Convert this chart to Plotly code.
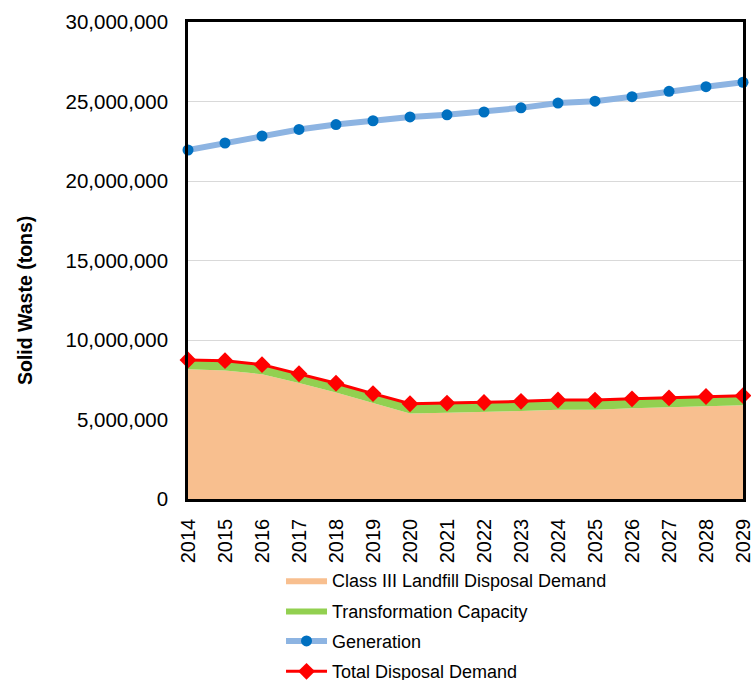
import plotly.graph_objects as go

years = list(range(2014, 2030))
landfill = [8.16e6, 8.08e6, 7.85e6, 7.30e6, 6.70e6, 6.05e6, 5.38e6, 5.42e6,
            5.46e6, 5.54e6, 5.62e6, 5.62e6, 5.70e6, 5.76e6, 5.84e6, 5.90e6]
transformation = [0.58e6] * 16
generation = [21.95e6, 22.39e6, 22.83e6, 23.24e6, 23.55e6, 23.79e6, 24.03e6, 24.16e6,
              24.34e6, 24.60e6, 24.90e6, 25.02e6, 25.30e6, 25.64e6, 25.93e6, 26.21e6]
total = [8.74e6, 8.70e6, 8.45e6, 7.88e6, 7.28e6, 6.63e6, 5.99e6, 6.03e6,
         6.07e6, 6.14e6, 6.23e6, 6.22e6, 6.30e6, 6.36e6, 6.45e6, 6.50e6]
y_ticks = [0, 5e6, 10e6, 15e6, 20e6, 25e6, 30e6]

fig = go.Figure()
fig.add_trace(go.Scatter(x=years, y=landfill, name="Class III Landfill Disposal Demand",
                         mode="lines", line=dict(width=0, color="#F8BF8F"),
                         fillcolor="#F8BF8F", stackgroup="one", legendgroup="a"))
fig.add_trace(go.Scatter(x=years, y=transformation, name="Transformation Capacity",
                         mode="lines", line=dict(width=0, color="#92D050"),
                         fillcolor="#92D050", stackgroup="one", legendgroup="b"))
fig.add_trace(go.Scatter(x=years, y=generation, name="Generation", mode="lines+markers",
                         line=dict(color="#8DB4E2", width=6),
                         marker=dict(color="#0070C0", size=11), cliponaxis=False,
                         legendgroup="c"))
fig.add_trace(go.Scatter(x=years, y=total, name="Total Disposal Demand", mode="lines+markers",
                         line=dict(color="#FF0000", width=3),
                         marker=dict(color="#FF0000", size=13, symbol="diamond"), cliponaxis=False,
                         legendgroup="d"))

fig.add_annotation(text="<b>Solid Waste (tons)</b>", textangle=-90,
                   xref="paper", yref="paper", x=-0.2937, y=0.4172,
                   xanchor="center", yanchor="middle", showarrow=False,
                   font=dict(size=19.5, color="black"))

fig.update_layout(
    width=751, height=680,
    margin=dict(l=188, r=8, t=22, b=181, autoexpand=False),
    paper_bgcolor="white", plot_bgcolor="white",
    font=dict(family="Liberation Sans, Arial", color="black"),
    showlegend=True,
    legend=dict(x=0.1676, y=-0.132, xanchor="left", yanchor="top",
                font=dict(size=18), traceorder="grouped", tracegroupgap=4,
                itemwidth=41, bgcolor="rgba(0,0,0,0)"),
)
fig.update_xaxes(range=[2014, 2029], tickvals=years, ticktext=[str(y) for y in years],
                 tickangle=-90, tickfont=dict(size=20), showgrid=False,
                 showline=True, linecolor="black", linewidth=2.5, mirror=True,
                 ticks="", zeroline=False, ticklabelstandoff=9, automargin=False,
                 ticklabeloverflow="allow")
fig.update_yaxes(range=[0, 30e6], tickvals=y_ticks, tickformat=",",
                 tickfont=dict(size=20.5), showgrid=True, gridcolor="#D9D9D9",
                 showline=True, linecolor="black", linewidth=2.5, mirror=True,
                 ticks="", zeroline=False, ticklabelstandoff=13, automargin=False,
                 ticklabeloverflow="allow")

fig.write_html("out.html", config={"displayModeBar": False},
               post_script="document.body.style.margin='0';document.body.style.overflow='hidden';")
